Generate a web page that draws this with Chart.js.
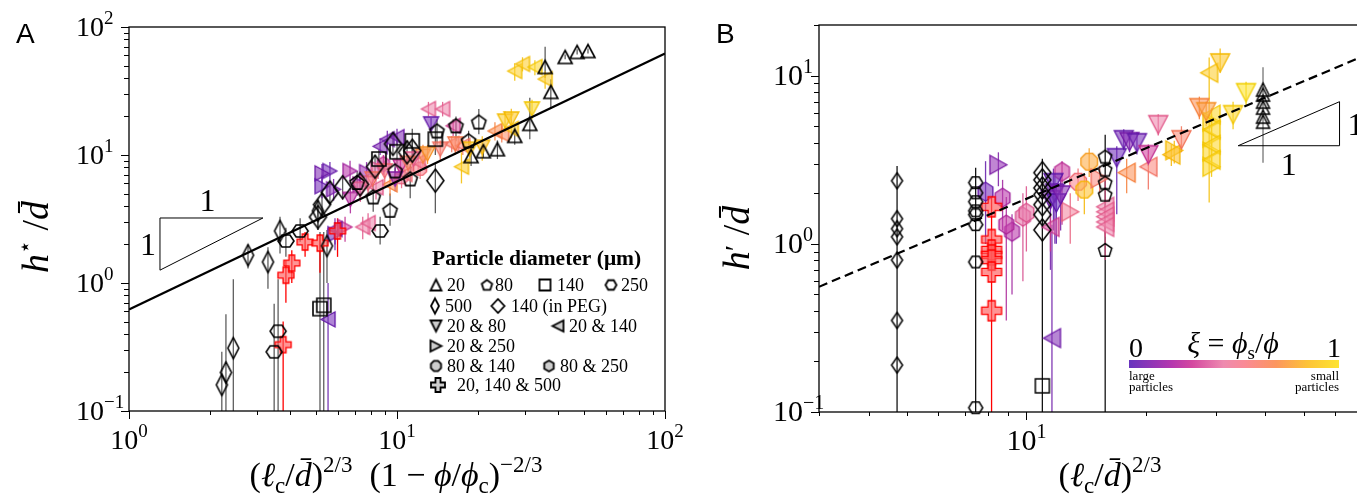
<!DOCTYPE html>
<html>
<head>
<meta charset="utf-8">
<script src="https://cdn.jsdelivr.net/npm/chart.js@4.4.1/dist/chart.umd.min.js"></script>
<style>
html, body { margin: 0; padding: 0; background: #fff; overflow: hidden; }
#wrap { position: relative; width: 1357px; height: 498px; overflow: hidden; }
#chartA { position: absolute; left: 0; top: 0; }
#chartB { position: absolute; left: 700px; top: 0; }
</style>
</head>
<body>
<div id="wrap">
  <canvas id="chartA" width="700" height="498"></canvas>
  <canvas id="chartB" width="760" height="498"></canvas>
</div>
<script>
// ---- panel A : h*/d vs (lc/d)^(2/3) (1-phi/phic)^(-2/3) ----
// single species: [x, y, errLow, errHigh]
const aTri20 = [[42.4, 58.3, 56, 61], [47.0, 63.8, 61, 67], [51.6, 64.9, 62, 68], [35.7, 48.7, 40, 70],
  [37.5, 31.1, 23, 39], [31.3, 17.5, 13.3, 28], [27.5, 14.1, 12, 16.5], [23.7, 11.1, 9.3, 13],
  [21.0, 10.7, 9.5, 12], [18.9, 9.8, 8.2, 12.2]];
const aPent80 = [[20.2, 18.1, 14.5, 22.9], [16.6, 16.9, 12.8, 20], [14.1, 15.4, 12, 19], [18.5, 12.9, 10, 15.5],
  [11.2, 6.5, 4.6, 8.5], [9.42, 3.7, 2.8, 5], [8.15, 4.7, 3.6, 6], [7.1, 6.1, 4.8, 7.5], [9.84, 7.5, 6.5, 8.5]];
const aSq140 = [[11.4, 12.9, 10, 16], [13.9, 13.3, 10, 17], [10.0, 10.6, 8.5, 13], [8.56, 9.3, 7.5, 11],
  [5.16, 0.63, 0.01, 2.5], [5.33, 0.67, 0.01, 2.5]];
const aHex250 = [[8.65, 2.55, 2.0, 3.3], [4.35, 2.55, 2.1, 3.2], [3.85, 2.13, 1.6, 2.7],
  [3.60, 0.42, 0.01, 1.07], [3.48, 0.29, 0.01, 0.69]];
const aDia500 = [[2.22, 0.16, 0.01, 0.29], [2.30, 0.20, 0.01, 0.57], [2.45, 0.31, 0.01, 1.07], [2.78, 1.65, 1.3, 2.0],
  [3.30, 1.46, 0.9, 1.9], [3.66, 2.55, 1.7, 3.3], [5.48, 1.95, 1.0, 2.6], [5.07, 3.66, 2.6, 4.5]];
const aDiaPeg = [[9.66, 12.2, 10, 15], [11.4, 10.8, 8.5, 13], [13.9, 6.3, 3.5, 8.5], [5.25, 4.1, 3.3, 5],
  [5.07, 3.28, 2.6, 4], [5.62, 5.1, 4.1, 6.2], [6.27, 5.6, 4.5, 6.8], [7.28, 5.9, 4.5, 7.5],
  [8.28, 8.1, 6.5, 10], [10.9, 10.5, 8, 13]];
// mixtures: [x, y, errLow, errHigh, xi]
const aDown = [[13.4, 17.5, 15.5, 19.5, 0.05], [25.3, 18.4, 15, 22, 0.9], [26.7, 19.1, 16, 23, 0.88],
  [31.9, 22.9, 19, 27, 0.95], [20.8, 11.5, 9, 14, 0.85], [18.7, 11.1, 8.5, 13, 0.9], [12.5, 9.8, 8, 12, 0.7],
  [11.5, 9.3, 7.5, 11, 0.45], [10.3, 8.1, 6.5, 10, 0.3], [9.0, 7.5, 6, 9, 0.55], [8.1, 6.5, 5.3, 8, 0.6],
  [7.3, 5.4, 4.3, 6.8, 0.45], [6.7, 4.5, 3.5, 5.5, 0.25], [14.5, 11.1, 9, 13, 0.6], [16.5, 12.2, 10, 14, 0.65],
  [9.84, 6.5, 5.2, 8, 0.15], [11.0, 8.6, 7, 10, 0.62], [13.0, 10.2, 8.5, 12, 0.75], [7.8, 6.0, 4.8, 7.2, 0.5]];
const aLeft = [[27.5, 45.3, 38, 52, 0.92], [29.4, 51.4, 45, 58, 0.9], [32.7, 48.7, 42, 55, 0.95],
  [35.7, 39.2, 33, 45, 0.9], [13.1, 22.9, 20, 26, 0.45], [14.8, 22.9, 20, 26, 0.45], [16.2, 16.9, 14, 19, 0.35],
  [23.2, 15.4, 13, 18, 0.7], [24.6, 14.6, 12.5, 17, 0.65], [26.7, 16.0, 13.5, 19, 0.9], [16.0, 12.2, 10.5, 14, 0.6],
  [17.6, 11.8, 10, 13.5, 0.6], [17.4, 8.1, 6, 10.5, 0.9], [9.2, 13.3, 11.5, 15.5, 0.08], [10.0, 13.8, 12, 16, 0.08],
  [8.65, 11.7, 10, 13.5, 0.08], [7.45, 2.74, 2.2, 3.3, 0.45], [7.8, 2.94, 2.4, 3.5, 0.45],
  [5.53, 0.52, 0.01, 1.0, 0.05], [5.87, 2.64, 2.0, 3.2, 0.1], [10.7, 7.1, 5.8, 8.5, 0.55],
  [12.0, 8.8, 7, 10.5, 0.5], [9.42, 5.9, 4.8, 7.2, 0.7], [8.35, 5.6, 4.5, 6.8, 0.45]];
const aRight = [[5.62, 7.5, 6.3, 8.8, 0.05], [5.25, 7.2, 6, 8.5, 0.08], [5.25, 5.7, 4.6, 7, 0.05],
  [5.8, 5.4, 4.4, 6.5, 0.1], [6.68, 7.5, 6, 9, 0.22], [7.28, 5.9, 4.8, 7.2, 0.22], [7.7, 7.35, 6, 8.8, 0.15],
  [5.87, 2.41, 1.8, 3, 0.05], [6.4, 2.74, 2.1, 3.3, 0.3], [8.5, 7.8, 6.5, 9.2, 0.4]];
const aOct = [[12.2, 7.8, 6.5, 9, 0.55], [10.4, 6.7, 5.5, 8, 0.5]];
const aHexMix = [[8.9, 8.5, 7, 10, 0.3]];
const aPlus = [[3.85, 1.15, 0.7, 1.5], [4.05, 1.43, 1.0, 1.8], [4.54, 2.09, 1.6, 2.5], [5.16, 2.05, 1.2, 2.4],
  [6.0, 2.55, 1.6, 3.2], [3.76, 0.33, 0.01, 0.5]];

// ---- panel B : h'/d vs (lc/d)^(2/3) ----
const bDia500 = [[4.72, 2.37, 0.01, 2.9], [4.72, 1.41], [4.72, 1.23], [4.72, 1.10], [4.72, 0.80], [4.72, 0.35], [4.72, 0.19]];
const bHex250 = [[7.45, 2.31, 0.01, 2.83], [7.45, 2.01], [7.45, 1.78], [7.45, 1.57], [7.45, 1.49], [7.45, 1.30], [7.45, 0.78], [7.45, 0.106]];
const bPlus = [[8.17, 1.66, 0.01, 1.88], [8.17, 1.06], [8.17, 0.92], [8.17, 0.86], [8.17, 0.80], [8.17, 0.68], [8.17, 0.40]];
const bDiaPeg = [[10.97, 2.65, 0.01, 3.2], [10.97, 2.40], [10.97, 2.15], [10.97, 1.96], [10.97, 1.71], [10.97, 1.49], [10.97, 1.21]];
const bSq140 = [[10.97, 0.143]];
const bPent80 = [[15.8, 3.30, 0.01, 4.45], [15.8, 2.76], [15.8, 2.31], [15.8, 1.96], [15.8, 0.92]];
const bTri20 = [[39.5, 8.26, 3.03, 11.2], [39.5, 7.71], [39.5, 7.0], [39.5, 6.45], [39.5, 5.70], [39.5, 5.32]];
const bDown = [[30.8, 11.9, 10.4, 14.5, 0.88], [35.8, 7.92, 6.7, 9.2, 1.0], [33.2, 5.86, 4.8, 7.0, 0.95],
  [27.3, 6.45, 5.5, 7.5, 0.7], [28.4, 6.1, 5.0, 7.0, 0.75], [21.5, 5.11, 4.4, 5.9, 0.45], [24.6, 4.16, 3.5, 5.0, 0.62],
  [17.6, 4.16, 3.6, 4.8, 0.05], [18.2, 4.05, 3.5, 4.6, 0.1], [19.0, 3.99, 3.4, 4.6, 0.05], [20.3, 3.39, 2.9, 3.9, 0.3],
  [16.9, 3.25, 1.5, 3.8, 0.03], [11.7, 2.31, 1.2, 2.8, 0.03], [11.8, 2.0, 1.0, 2.6, 0.05], [11.5, 1.83, 0.7, 2.4, 0.08],
  [11.9, 1.75, 1.0, 2.3, 0.02], [12.2, 1.95, 1.2, 2.5, 0.1]];
const bLeft = [[28.9, 10.4, 1.76, 12.8, 0.9], [29.3, 5.86, 5.2, 6.4, 0.95], [29.3, 4.77, 4.2, 5.3, 0.95],
  [29.3, 3.88, 3.4, 4.4, 0.95], [29.3, 3.16, 2.8, 3.6, 0.95], [23.2, 3.39, 2.9, 3.9, 0.85], [20.3, 2.87, 2.1, 3.4, 0.6],
  [17.9, 2.65, 2.0, 3.2, 0.7], [15.8, 1.66, 0.8, 2.57, 0.45], [15.8, 1.55, 1.4, 1.7, 0.45], [15.8, 1.45, 1.3, 1.6, 0.45],
  [15.8, 1.35, 1.2, 1.5, 0.45], [15.8, 1.26, 1.1, 1.4, 0.45], [11.6, 0.275, 0.01, 1.3, 0.08], [11.5, 1.26, 0.9, 1.5, 0.35]];
const bRight = [[8.5, 2.95, 2.2, 3.5, 0.12], [12.9, 1.55, 1.0, 2.0, 0.5], [29.3, 5.32, 4.8, 5.9, 0.95],
  [29.3, 4.27, 3.8, 4.8, 0.95], [29.3, 3.53, 3.1, 4.0, 0.95], [29.3, 2.87, 2.5, 3.3, 0.95],
  [23.6, 3.6, 3.0, 4.1, 0.88], [15.3, 2.45, 2.0, 2.9, 0.6]];
const bOct = [[14.4, 3.08, 2.5, 3.7, 0.78], [13.5, 2.34, 1.8, 2.8, 0.55], [14.0, 2.10, 1.5, 2.6, 0.85]];
const bHexMix = [[7.89, 2.04, 1.0, 3.1, 0.05], [8.71, 1.88, 1.2, 2.4, 0.22], [9.2, 1.18, 0.5, 1.5, 0.22],
  [9.8, 1.45, 0.6, 2.0, 0.4], [10.0, 1.53, 0.9, 2.2, 0.42], [12.3, 2.68, 1.3, 3.1, 0.28], [8.9, 1.3, 0.35, 1.9, 0.25]];

// fits (y = k x) and slope triangles
const aFitK = 0.62;
const bFitK = 0.185;
const aSlopeTri = [[1.305, 3.22], [3.16, 3.22], [1.305, 1.26], [1.305, 3.22]];
const bSlopeTri = [[34.2, 3.83], [61.6, 3.83], [61.6, 7.0], [34.2, 3.83]];

// decades that get a label
const aXDecades = [1, 10, 100];
const aYDecades = [0.1, 1, 10, 100];
const bXDecades = [10, 100];
const bYDecades = [0.1, 1, 10];

// colour map for xi = phi_s / phi
const fillStops = [[0, [104, 52, 190]], [0.2, [180, 55, 175]], [0.3, [212, 72, 160]], [0.45, [238, 138, 175]],
  [0.55, [250, 138, 150]], [0.7, [252, 150, 95]], [0.85, [253, 195, 55]], [1, [253, 228, 50]]];
const edgeStops = [[0, [80, 20, 170]], [0.2, [150, 30, 160]], [0.3, [190, 40, 140]], [0.45, [225, 85, 135]],
  [0.55, [238, 100, 110]], [0.7, [245, 125, 55]], [0.85, [245, 180, 0]], [1, [240, 205, 0]]];

const serif = "'Liberation Serif', 'DejaVu Serif', serif";

function cmap(stops, t) {
  t = Math.max(0, Math.min(1, t));
  for (let i = 1; i < stops.length; i++) {
    if (t <= stops[i][0]) {
      const [t0, c0] = stops[i - 1];
      const [t1, c1] = stops[i];
      const f = (t - t0) / (t1 - t0);
      return c0.map((v, k) => Math.round(v + (c1[k] - v) * f));
    }
  }
  return stops[stops.length - 1][1];
}
const rgba = (c, a) => `rgba(${c[0]},${c[1]},${c[2]},${a})`;

// marker images, used as pointStyle
const markerCache = {};
function shapePoints(shape, rx, ry) {
  const pts = [];
  const poly = (n, start, r) => { for (let i = 0; i < n; i++) { const a = start + i * 2 * Math.PI / n; pts.push([r * Math.cos(a) * rx / ry, r * Math.sin(a)]); } };
  if (shape === 'up') return [[0, -ry], [rx, ry], [-rx, ry]];
  if (shape === 'down') return [[0, ry], [rx, -ry], [-rx, -ry]];
  if (shape === 'left') return [[-rx, 0], [rx, -ry], [rx, ry]];
  if (shape === 'right') return [[rx, 0], [-rx, -ry], [-rx, ry]];
  if (shape === 'square') return [[-rx, -ry], [rx, -ry], [rx, ry], [-rx, ry]];
  if (shape === 'diamond') return [[0, -ry], [rx, 0], [0, ry], [-rx, 0]];
  if (shape === 'pent') { poly(5, -Math.PI / 2, ry); return pts.map(p => [p[0], p[1] + ry * 0.08]); }
  if (shape === 'hexFlat') { poly(6, 0, ry); return pts; }
  if (shape === 'hexPoint') { poly(6, -Math.PI / 2, ry); return pts; }
  if (shape === 'oct') { poly(8, Math.PI / 8, ry); return pts; }
  if (shape === 'plus') {
    const a = rx * 0.36;
    return [[-a, -rx], [a, -rx], [a, -a], [rx, -a], [rx, a], [a, a], [a, rx], [-a, rx], [-a, a], [-rx, a], [-rx, -a], [-a, -a]];
  }
  return pts;
}
function makeMarker(shape, w, h, fill, stroke, lw) {
  const key = [shape, w, h, fill, stroke, lw].join('|');
  if (markerCache[key]) return markerCache[key];
  const c = document.createElement('canvas');
  const pad = Math.ceil(lw) + 1;
  c.width = Math.ceil(w + 2 * pad);
  c.height = Math.ceil(h + 2 * pad);
  const g = c.getContext('2d');
  g.translate(c.width / 2, c.height / 2);
  const pts = shapePoints(shape, w / 2, h / 2);
  g.beginPath();
  pts.forEach((p, i) => i ? g.lineTo(p[0], p[1]) : g.moveTo(p[0], p[1]));
  g.closePath();
  if (fill) { g.fillStyle = fill; g.fill(); }
  g.strokeStyle = stroke; g.lineWidth = lw; g.lineJoin = 'miter'; g.stroke();
  markerCache[key] = c;
  return c;
}

function toDataset(grp, blackErr, blackLw) {
  const pts = grp.data.map(p => {
    let fill = null, stroke = '#000', ec = blackErr, lw = blackLw;
    if (grp.kind === 'mix') {
      fill = rgba(cmap(fillStops, p[4]), 0.6);
      stroke = rgba(cmap(edgeStops, p[4]), 1);
      ec = rgba(cmap(edgeStops, p[4]), 0.85);
      lw = 1.3;
    } else if (grp.kind === 'red') {
      fill = 'rgba(255,90,90,0.65)'; stroke = '#f00'; ec = '#f00'; lw = 1.3;
    }
    if (grp.errColor) ec = grp.errColor;
    return {
      x: p[0], y: p[1], lo: p.length > 3 ? p[2] : null, hi: p.length > 3 ? p[3] : null, ec,
      img: makeMarker(grp.shape, grp.w, grp.h, fill, stroke, lw)
    };
  });
  return {
    label: grp.name, data: pts, errWidth: grp.kind === 'black' ? 1.2 : 1.3,
    pointStyle: c => (c.raw && c.raw.img) || 'circle',
    pointRadius: 6, clip: false, order: grp.kind === 'black' ? 1 : 2
  };
}

function lineDataset(pts, width, dash, order) {
  return {
    data: pts.map(p => ({ x: p[0], y: p[1] })), showLine: true, borderColor: '#000', borderWidth: width,
    borderDash: dash, pointRadius: 0, fill: false, order: order
  };
}

function fontOf(size, style) {
  const st = style === 'i' ? 'italic ' : style === 'b' ? 'bold ' : '';
  return st + size + 'px ' + serif;
}
// draws a run of text pieces: [text, size, style, dy]
function rich(ctx, segs, x, y, align) {
  let total = 0;
  const ws = segs.map(s => { ctx.font = fontOf(s[1], s[2]); const w = ctx.measureText(s[0]).width; total += w; return w; });
  let cx = align === 'center' ? x - total / 2 : (align === 'right' ? x - total : x);
  ctx.textAlign = 'left';
  ctx.textBaseline = 'alphabetic';
  segs.forEach((s, i) => { ctx.font = fontOf(s[1], s[2]); ctx.fillText(s[0], cx, y + (s[3] || 0)); cx += ws[i]; });
  return total;
}
function expLabel(v) {
  const e = Math.round(Math.log10(v));
  return e < 0 ? '\u2212' + (-e) : String(e);
}
function logTicks(min, max) {
  const out = [];
  for (let e = Math.floor(Math.log10(min)); e <= Math.ceil(Math.log10(max)); e++) {
    for (let m = 1; m < 10; m++) {
      const v = m * Math.pow(10, e);
      if (v >= min * 0.999 && v <= max * 1.001) out.push([v, m === 1]);
    }
  }
  return out;
}

function decoPlugin(p) {
  return {
    id: 'deco',
    beforeDatasetsDraw(chart) {
      const { ctx, chartArea: a, scales: { x, y } } = chart;
      ctx.save();
      ctx.beginPath();
      ctx.rect(a.left, a.top, a.right - a.left, a.bottom - a.top);
      ctx.clip();
      chart.data.datasets.forEach(ds => {
        if (!ds.errWidth) return;
        ds.data.forEach(pt => {
          if (pt.lo == null) return;
          const px = x.getPixelForValue(pt.x);
          ctx.strokeStyle = pt.ec;
          ctx.lineWidth = ds.errWidth;
          ctx.beginPath();
          ctx.moveTo(px, y.getPixelForValue(pt.lo));
          ctx.lineTo(px, y.getPixelForValue(pt.hi));
          ctx.stroke();
        });
      });
      ctx.restore();
    },
    afterDatasetsDraw(chart) {
      const { ctx, chartArea: a, scales: { x, y } } = chart;
      ctx.save();
      ctx.strokeStyle = '#000';
      ctx.fillStyle = '#000';
      ctx.lineWidth = 1.3;
      ctx.strokeRect(a.left, a.top, a.right - a.left, a.bottom - a.top);
      // tick marks
      ctx.lineWidth = 1;
      logTicks(p.xMin, p.xMax).forEach(([v, major]) => {
        const px = Math.round(x.getPixelForValue(v)) + 0.5;
        ctx.beginPath(); ctx.moveTo(px, a.bottom); ctx.lineTo(px, a.bottom + (major ? 8 : 4)); ctx.stroke();
      });
      logTicks(p.yMin, p.yMax).forEach(([v, major]) => {
        const py = Math.round(y.getPixelForValue(v)) + 0.5;
        ctx.beginPath(); ctx.moveTo(a.left, py); ctx.lineTo(a.left - (major ? 8 : 5), py); ctx.stroke();
      });
      // tick labels
      p.xDec.forEach(v => {
        rich(ctx, [['10', p.tickSize, 'n'], [expLabel(v), p.expSize, 'n', -12]], x.getPixelForValue(v), a.bottom + 38, 'center');
      });
      p.yDec.forEach(v => {
        const py = y.getPixelForValue(v);
        rich(ctx, [['10', p.tickSize, 'n']], a.left - p.yLabGap, py + 9, 'right');
        rich(ctx, [[expLabel(v), p.expSize, 'n']], a.left - p.yLabGap, py - 3, 'left');
      });
      // axis titles
      rich(ctx, p.xTitle, p.xTitleX, 486, 'center');
      ctx.save();
      ctx.translate(p.yTitleX, p.yTitleY);
      ctx.rotate(-Math.PI / 2);
      rich(ctx, p.yTitle, 0, 12, 'center');
      ctx.restore();
      // panel letter
      ctx.font = "28px 'Liberation Sans', Arial, sans-serif";
      ctx.textAlign = 'left';
      ctx.fillText(p.letter, 16, 43);
      if (p.extra) p.extra(ctx, a, x, y);
      ctx.restore();
    }
  };
}

function makePanel(p) {
  const datasets = [lineDataset(p.fit, 2.2, p.dash, 0), lineDataset(p.tri, 1, [], 0)]
    .concat(p.groups.map(g => toDataset(g, p.blackErr, p.blackLw)));
  return new Chart(document.getElementById(p.canvas), {
    type: 'scatter',
    data: { datasets },
    options: {
      responsive: false, animation: false, events: [],
      layout: { padding: { left: 0, top: p.top, right: p.right, bottom: 0 } },
      plugins: { legend: { display: false }, tooltip: { enabled: false } },
      scales: {
        x: { type: 'logarithmic', min: p.xMin, max: p.xMax, grid: { display: false }, border: { display: false },
          ticks: { display: false }, afterFit: s => { s.height = p.xAxisH; } },
        y: { type: 'logarithmic', min: p.yMin, max: p.yMax, grid: { display: false }, border: { display: false },
          ticks: { display: false }, afterFit: s => { s.width = p.yAxisW; } }
      }
    },
    plugins: [decoPlugin(p)]
  });
}

const legendItems = [
  ['up', 436, 285, '20', 447, false], ['pent', 487, 285, '80', 495, false], ['square', 545, 285, '140', 557, false],
  ['hexFlat', 611, 285, '250', 621, false],
  ['dthin', 435, 306, '500', 445, false], ['dwide', 498, 306, '140 (in PEG)', 511, false],
  ['down', 436, 326, '20 & 80', 447, true], ['left', 558, 326, '20 & 140', 569, true],
  ['right', 436, 346, '20 & 250', 447, true],
  ['oct', 436, 366, '80 & 140', 447, true], ['hexPoint', 549, 366, '80 & 250', 560, true],
  ['plus', 438, 385, '20, 140 & 500', 457, true]
];

function drawLegendA(ctx) {
  ctx.fillStyle = '#000';
  rich(ctx, [['Particle diameter (\u03bcm)', 21.5, 'b']], 432, 265, 'left');
  legendItems.forEach(([shape, mx, my, text, tx, grey]) => {
    let s = shape, w = 11, h = 11;
    if (shape === 'dthin') { s = 'diamond'; w = 8; h = 15; }
    if (shape === 'dwide') { s = 'diamond'; w = 13; h = 14; }
    if (shape === 'plus') { w = 14; h = 14; }
    const img = makeMarker(s, w, h, grey ? 'rgb(205,205,205)' : null, '#000', 1.8);
    ctx.drawImage(img, mx - img.width / 2, my - img.height / 2);
    rich(ctx, [[text, 18, 'n']], tx, my + 6, 'left');
  });
}

function triLabels(ctx, x, y, tri, topOrBottom) {
  ctx.fillStyle = '#000';
  const xa = x.getPixelForValue(tri[0][0]), xb = x.getPixelForValue(tri[1][0]);
  const ys = tri.map(t => y.getPixelForValue(t[1]));
  const yTop = Math.min(...ys), yBot = Math.max(...ys);
  if (topOrBottom === 'top') {
    rich(ctx, [['1', 32, 'n']], (xa + xb) / 2 - 4, yTop - 7, 'center');
    rich(ctx, [['1', 32, 'n']], xa - 12, (yTop + yBot) / 2 + 11, 'center');
  } else {
    rich(ctx, [['1', 32, 'n']], (xa + xb) / 2, yBot + 29, 'center');
    rich(ctx, [['1', 32, 'n']], xb + 8, (yTop + yBot) / 2 + 11, 'left');
  }
}

function drawColorbar(ctx) {
  const x0 = 429, x1 = 639, y0 = 360, y1 = 368;
  const grad = ctx.createLinearGradient(x0, 0, x1, 0);
  fillStops.forEach(([t, c]) => grad.addColorStop(t, rgba(c, 1)));
  ctx.fillStyle = grad;
  ctx.fillRect(x0, y0, x1 - x0, y1 - y0);
  ctx.fillStyle = '#000';
  rich(ctx, [['0', 28, 'n']], x0 + 7, 357, 'center');
  rich(ctx, [['1', 28, 'n']], x1 - 5, 357, 'center');
  rich(ctx, [['\u03be', 30, 'i'], [' = ', 30, 'n'], ['\u03d5', 30, 'i'], ['s', 19, 'n', 6], ['/', 30, 'n'], ['\u03d5', 30, 'i']], 533, 353, 'center');
  rich(ctx, [['large', 13, 'n']], x0, 380, 'left');
  rich(ctx, [['particles', 13, 'n']], x0, 391, 'left');
  rich(ctx, [['small', 13, 'n']], x1, 380, 'right');
  rich(ctx, [['particles', 13, 'n']], x1, 391, 'right');
}

const panelA = {
  canvas: 'chartA', letter: 'A', xMin: 1, xMax: 100, yMin: 0.1, yMax: 100,
  top: 27, right: 35, yAxisW: 129, xAxisH: 87,
  xDec: aXDecades, yDec: aYDecades, tickSize: 28, expSize: 19, yLabGap: 25,
  fit: [[1, aFitK * 1], [100, aFitK * 100]], dash: [], tri: aSlopeTri, blackErr: 'rgba(50,50,50,0.85)', blackLw: 1.6,
  xTitle: [['(', 34, 'n'], ['\u2113', 34, 'i'], ['c', 23, 'n', 7], ['/', 34, 'n'], ['d\u0304', 34, 'i'], [')', 34, 'n'],
    ['2/3', 23, 'n', -14], ['  (1 \u2212 ', 34, 'n'], ['\u03d5', 34, 'i'], ['/', 34, 'n'], ['\u03d5', 34, 'i'],
    ['c', 23, 'n', 7], [')', 34, 'n'], ['\u22122/3', 23, 'n', -14]],
  xTitleX: 396,
  yTitle: [['h', 38, 'i'], ['\u22c6', 22, 'n', -16], [' /', 38, 'n'], ['d\u0304', 38, 'i']],
  yTitleX: 36, yTitleY: 237,
  groups: [
    { name: '20', data: aTri20, kind: 'black', shape: 'up', w: 14, h: 13 },
    { name: '80', data: aPent80, kind: 'black', shape: 'pent', w: 15, h: 15 },
    { name: '140', data: aSq140, kind: 'black', shape: 'square', w: 14, h: 14 },
    { name: '250', data: aHex250, kind: 'black', shape: 'hexFlat', w: 16, h: 14 },
    { name: '500', data: aDia500, kind: 'black', shape: 'diamond', w: 11, h: 21 },
    { name: '140 (in PEG)', data: aDiaPeg, kind: 'black', shape: 'diamond', w: 17, h: 23 },
    { name: '20, 140 & 500', data: aPlus, kind: 'red', shape: 'plus', w: 16, h: 16 },
    { name: '20 & 80', data: aDown, kind: 'mix', shape: 'down', w: 15, h: 14 },
    { name: '20 & 140', data: aLeft, kind: 'mix', shape: 'left', w: 14, h: 15 },
    { name: '20 & 250', data: aRight, kind: 'mix', shape: 'right', w: 14, h: 15 },
    { name: '80 & 140', data: aOct, kind: 'mix', shape: 'oct', w: 14, h: 14 },
    { name: '80 & 250', data: aHexMix, kind: 'mix', shape: 'hexPoint', w: 14, h: 15 }
  ],
  extra: (ctx, a, x, y) => { drawLegendA(ctx); triLabels(ctx, x, y, aSlopeTri, 'top'); }
};

const panelB = {
  canvas: 'chartB', letter: 'B', xMin: 3, xMax: 100, yMin: 0.1, yMax: 20,
  top: 25, right: 37, yAxisW: 119, xAxisH: 86,
  xDec: bXDecades, yDec: bYDecades, tickSize: 30, expSize: 20, yLabGap: 16,
  fit: [[3, bFitK * 3], [100, bFitK * 100]], dash: [9, 5], tri: bSlopeTri, blackErr: '#000', blackLw: 1.5,
  xTitle: [['(', 34, 'n'], ['\u2113', 34, 'i'], ['c', 23, 'n', 7], ['/', 34, 'n'], ['d\u0304', 34, 'i'], [')', 34, 'n'],
    ['2/3', 23, 'n', -14]],
  xTitleX: 410,
  yTitle: [['h', 38, 'i'], ['\u2032', 30, 'n', -4], [' /', 38, 'n'], ['d\u0304', 38, 'i']],
  yTitleX: 37, yTitleY: 238,
  groups: [
    { name: '20', data: bTri20, kind: 'black', shape: 'up', w: 13, h: 13, errColor: 'rgba(90,90,90,0.9)' },
    { name: '80', data: bPent80, kind: 'black', shape: 'pent', w: 14, h: 14 },
    { name: '140', data: bSq140, kind: 'black', shape: 'square', w: 14, h: 14 },
    { name: '250', data: bHex250, kind: 'black', shape: 'hexFlat', w: 14, h: 13 },
    { name: '500', data: bDia500, kind: 'black', shape: 'diamond', w: 11, h: 16 },
    { name: '140 (in PEG)', data: bDiaPeg, kind: 'black', shape: 'diamond', w: 17, h: 22 },
    { name: '20, 140 & 500', data: bPlus, kind: 'red', shape: 'plus', w: 20, h: 20 },
    { name: '20 & 80', data: bDown, kind: 'mix', shape: 'down', w: 19, h: 18 },
    { name: '20 & 140', data: bLeft, kind: 'mix', shape: 'left', w: 17, h: 19 },
    { name: '20 & 250', data: bRight, kind: 'mix', shape: 'right', w: 17, h: 19 },
    { name: '80 & 140', data: bOct, kind: 'mix', shape: 'oct', w: 18, h: 18 },
    { name: '80 & 250', data: bHexMix, kind: 'mix', shape: 'hexPoint', w: 17, h: 19 }
  ],
  extra: (ctx, a, x, y) => { drawColorbar(ctx); triLabels(ctx, x, y, bSlopeTri, 'bottom'); }
};

document.addEventListener('DOMContentLoaded', function () {
  makePanel(panelA);
  makePanel(panelB);
});
</script>
</body>
</html>
